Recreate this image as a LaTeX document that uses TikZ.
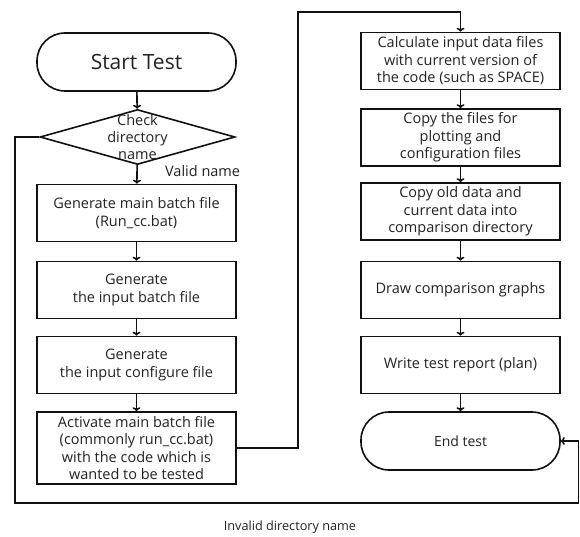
\documentclass[tikz,border=0pt]{standalone}
\usepackage{fontspec}
\setmainfont{Open Sans}
\usepackage{tikz}
\usetikzlibrary{shapes.geometric,arrows.meta}
\definecolor{fcline}{HTML}{111111}
\definecolor{fctext}{HTML}{222222}

\begin{document}
\begin{tikzpicture}[x=1pt,y=1pt,line width=1.6pt,draw=fcline,text=fctext,
  >={To[length=4pt,width=8pt]},
  stepbox/.style={draw,rectangle,minimum width=199pt,minimum height=57pt,inner sep=1pt,
    align=center,font=\fontsize{14.5}{17.5}\selectfont},
  terminal/.style={draw,rectangle,rounded corners=28pt,minimum width=199pt,minimum height=58pt,
    align=center},
  decision/.style={draw,diamond,minimum width=195pt,minimum height=55pt,inner sep=0pt}]
  \useasboundingbox (0,0) rectangle (580,536);

  % left column
  \node[terminal,font=\fontsize{21}{24}\selectfont] (start) at (136.5,474) {Start Test};
  \node[decision,label={[align=center,font=\fontsize{14.5}{17}\selectfont]center:Check\\directory\\name}] (check) at (137.5,399) {};
  \node[stepbox] (mainbat) at (136.5,323) {Generate main batch file\\(Run\_cc.bat)};
  \node[stepbox] (inbat) at (136.5,246) {Generate\\the input batch file};
  \node[stepbox] (incfg) at (136.5,171) {Generate\\the input configure file};
  \node[stepbox,minimum height=72pt] (activate) at (136.5,88) {Activate main batch file\\(commonly run\_cc.bat)\\with the code which is\\wanted to be tested};

  % right column
  \node[stepbox] (calc) at (460.5,475) {Calculate input data files\\with current version of\\the code (such as SPACE)};
  \node[stepbox] (cpplot) at (460.5,398.5) {Copy the files for\\plotting and\\configuration files};
  \node[stepbox] (cpdata) at (460.5,324.5) {Copy old data and\\current data into\\comparison directory};
  \node[stepbox] (graphs) at (460.5,246) {Draw comparison graphs};
  \node[stepbox] (report) at (460.5,171) {Write test report (plan)};
  \node[terminal,font=\fontsize{14}{17}\selectfont] (endtest) at (460.5,95) {End test};

  % straight flow
  \draw[->] (start) -- (check);
  \draw[->] (check) -- (mainbat);
  \draw[->] (mainbat) -- (inbat);
  \draw[->] (inbat) -- (incfg);
  \draw[->] (incfg) -- (activate);
  \draw[->] (calc) -- (cpplot);
  \draw[->] (cpplot) -- (cpdata);
  \draw[->] (cpdata) -- (graphs);
  \draw[->] (graphs) -- (report);
  \draw[->] (report) -- (endtest);
  \node[anchor=west,font=\fontsize{14.5}{17}\selectfont] (valid) at (161,365) {Valid name};

  % jump to the right column
  \coordinate (jmpA) at (298,88);
  \coordinate (jmpB) at (298,524);
  \draw[->] (activate.east) -- (jmpA) -- (jmpB) -| (calc.north);

  % invalid name goes straight to the end
  \coordinate (loopA) at (15,399);
  \coordinate (loopB) at (15,33);
  \coordinate (loopC) at (578.5,33);
  \draw[->] (check.west) -- (loopA) -- (loopB) -- (loopC) |- (endtest.east);
  \node[font=\fontsize{12.7}{14}\selectfont] (invalid) at (290,9) {Invalid directory name};
\end{tikzpicture}
\end{document}
